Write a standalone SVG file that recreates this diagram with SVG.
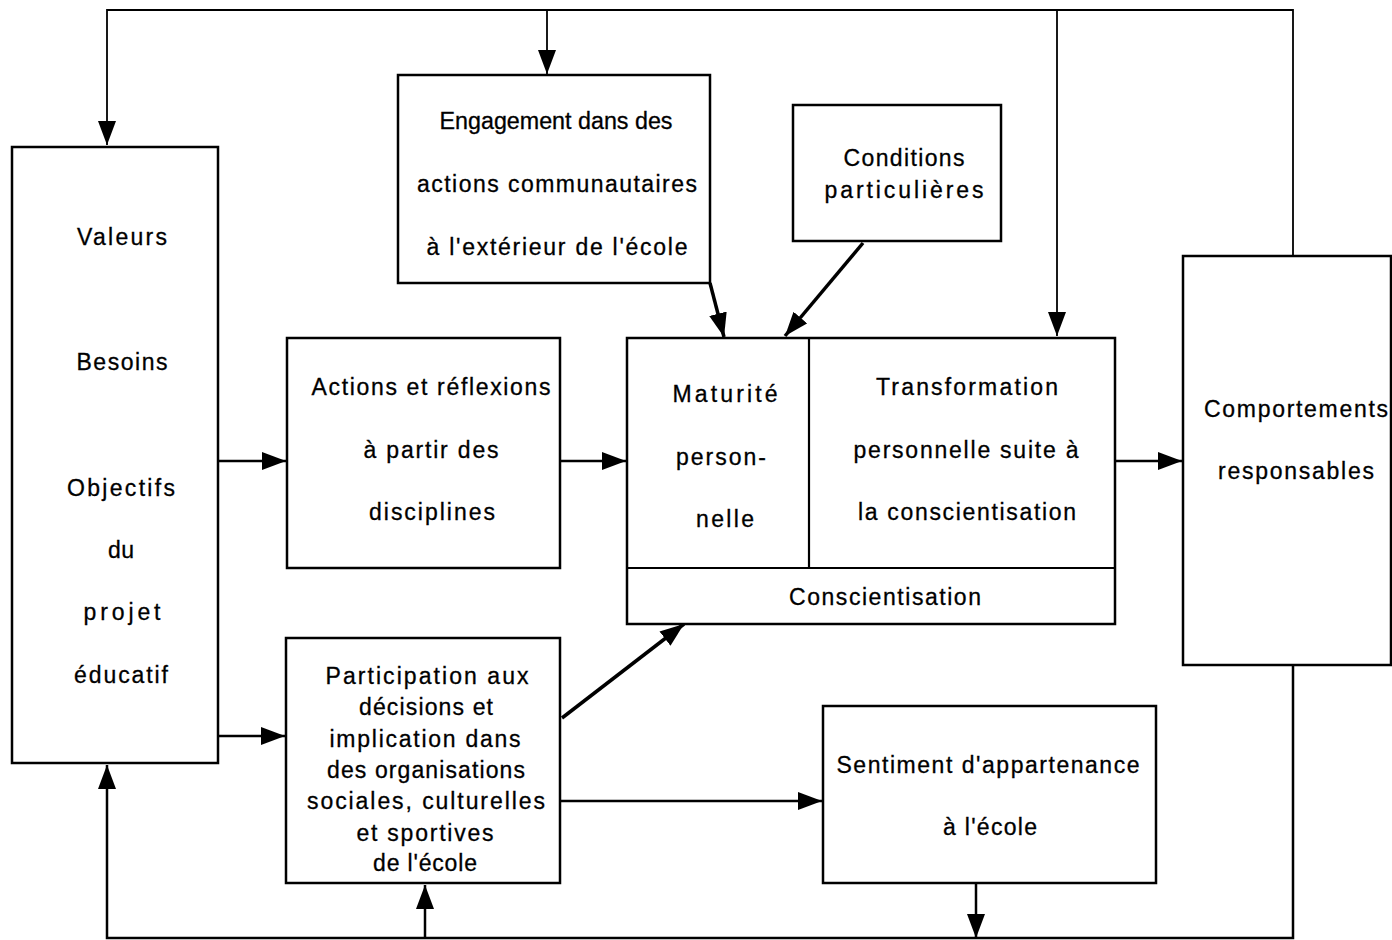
<svg xmlns="http://www.w3.org/2000/svg" width="1392" height="940" viewBox="0 0 1392 940">
<style>
.box{fill:#fff;stroke:#000;stroke-width:2.5}
.div{fill:none;stroke:#000;stroke-width:2.2}
text{font-family:"Liberation Sans",Arial,Helvetica,sans-serif;font-size:23px;fill:#000;stroke:#000;stroke-width:0.3;text-anchor:middle}
.c{fill:none;stroke:#000;stroke-width:2.5}
.t{fill:none;stroke:#000;stroke-width:1.8}
.d{fill:none;stroke:#000;stroke-width:3.5}
</style>
<defs>
<marker id="ah" markerUnits="userSpaceOnUse" markerWidth="26" markerHeight="20" refX="24" refY="9" orient="auto">
<path d="M0,0 L24,9 L0,18 z" fill="#000"/>
</marker>
</defs>
<rect width="1392" height="940" fill="#fff"/>
<g id="connectors">
<path class="t" d="M1293,256 V10 H107 V145" marker-end="url(#ah)"/>
<path class="t" d="M547,10 V74" marker-end="url(#ah)"/>
<path class="t" d="M1057,10 V336" marker-end="url(#ah)"/>
<path class="c" d="M1293,665 V938 H107 V765" marker-end="url(#ah)"/>
<path class="c" d="M425,938 V885" marker-end="url(#ah)"/>
<path class="c" d="M976,883 V938" marker-end="url(#ah)"/>
<path class="c" d="M218,461 H286" marker-end="url(#ah)"/>
<path class="c" d="M560,461 H626" marker-end="url(#ah)"/>
<path class="c" d="M1115,461 H1182" marker-end="url(#ah)"/>
<path class="c" d="M218,736 H285" marker-end="url(#ah)"/>
<path class="c" d="M560,801 H822" marker-end="url(#ah)"/>
<path class="d" d="M562,718 L684,624" marker-end="url(#ah)"/>
<path class="d" d="M710,283 L724,337" marker-end="url(#ah)"/>
<path class="d" d="M863,243 L785,336" marker-end="url(#ah)"/>
</g>
<g id="valeurs">
<rect class="box" x="12" y="147" width="206" height="616"/>
<text x="122" y="245" textLength="90" lengthAdjust="spacing">Valeurs</text>
<text x="122" y="370" textLength="91" lengthAdjust="spacing">Besoins</text>
<text x="121" y="496" textLength="108" lengthAdjust="spacing">Objectifs</text>
<text x="121" y="558" textLength="26" lengthAdjust="spacing">du</text>
<text x="122" y="620" textLength="77" lengthAdjust="spacing">projet</text>
<text x="121" y="683" textLength="94" lengthAdjust="spacing">éducatif</text>
</g>
<g id="engagement">
<rect class="box" x="398" y="75" width="312" height="208"/>
<text x="556" y="129" textLength="233" lengthAdjust="spacingAndGlyphs">Engagement dans des</text>
<text x="557" y="192" textLength="280" lengthAdjust="spacing">actions communautaires</text>
<text x="557" y="255" textLength="261" lengthAdjust="spacing">à l'extérieur de l'école</text>
</g>
<g id="conditions">
<rect class="box" x="793" y="105" width="208" height="136"/>
<text x="904" y="166" textLength="121" lengthAdjust="spacing">Conditions</text>
<text x="904" y="198" textLength="159" lengthAdjust="spacing">particulières</text>
</g>
<g id="actions">
<rect class="box" x="287" y="338" width="273" height="230"/>
<text x="431" y="395" textLength="239" lengthAdjust="spacing">Actions et réflexions</text>
<text x="431" y="458" textLength="135" lengthAdjust="spacing">à partir des</text>
<text x="432" y="520" textLength="126" lengthAdjust="spacing">disciplines</text>
</g>
<g id="conscientisation">
<rect class="box" x="627" y="338" width="488" height="286"/>
<line class="div" x1="809" y1="338" x2="809" y2="568"/>
<line class="div" x1="627" y1="568" x2="1115" y2="568"/>
<text x="725" y="402" textLength="105" lengthAdjust="spacing">Maturité</text>
<text x="721" y="465" textLength="90" lengthAdjust="spacing">person-</text>
<text x="725" y="527" textLength="58" lengthAdjust="spacing">nelle</text>
<text x="967" y="395" textLength="182" lengthAdjust="spacing">Transformation</text>
<text x="966" y="458" textLength="225" lengthAdjust="spacing">personnelle suite à</text>
<text x="967" y="520" textLength="218" lengthAdjust="spacing">la conscientisation</text>
<text x="885" y="605" textLength="192" lengthAdjust="spacing">Conscientisation</text>
</g>
<g id="comportements">
<rect class="box" x="1183" y="256" width="208" height="409"/>
<text x="1296" y="417" textLength="184" lengthAdjust="spacing">Comportements</text>
<text x="1296" y="479" textLength="156" lengthAdjust="spacing">responsables</text>
</g>
<g id="participation">
<rect class="box" x="286" y="638" width="274" height="245"/>
<text x="427" y="684" textLength="203" lengthAdjust="spacing">Participation aux</text>
<text x="426" y="715" textLength="134" lengthAdjust="spacing">décisions et</text>
<text x="425" y="747" textLength="191" lengthAdjust="spacing">implication dans</text>
<text x="426" y="778" textLength="198" lengthAdjust="spacing">des organisations</text>
<text x="426" y="809" textLength="238" lengthAdjust="spacing">sociales, culturelles</text>
<text x="425" y="841" textLength="137" lengthAdjust="spacing">et sportives</text>
<text x="425" y="871" textLength="104" lengthAdjust="spacing">de l'école</text>
</g>
<g id="sentiment">
<rect class="box" x="823" y="706" width="333" height="177"/>
<text x="988" y="773" textLength="303" lengthAdjust="spacing">Sentiment d'appartenance</text>
<text x="990" y="835" textLength="94" lengthAdjust="spacing">à l'école</text>
</g>
</svg>
